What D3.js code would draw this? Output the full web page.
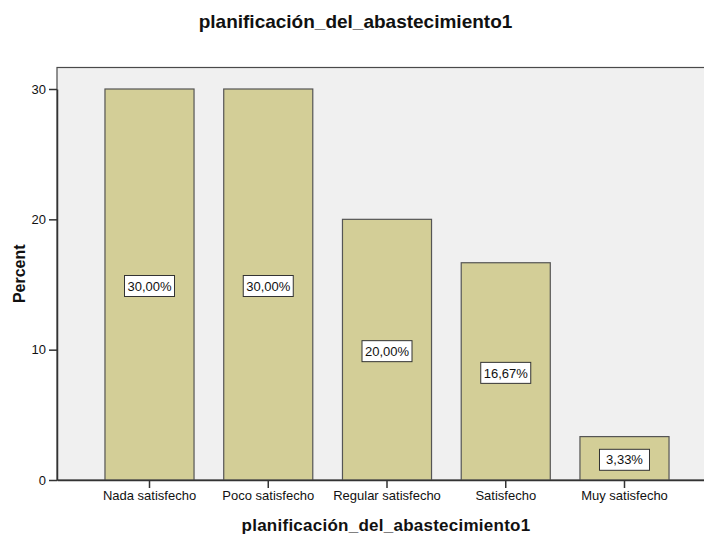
<!DOCTYPE html>
<html>
<head>
<meta charset="utf-8">
<script src="https://cdn.jsdelivr.net/npm/d3@7"></script>
<style>
  html, body { margin: 0; padding: 0; background: #ffffff; }
  svg { display: block; font-family: "Liberation Sans", Arial, sans-serif; }
</style>
</head>
<body>
<svg id="chart" width="704" height="535"></svg>
<script>
// Satisfaction levels and their share of responses (percent)
const categories = ["Nada satisfecho", "Poco satisfecho", "Regular satisfecho", "Satisfecho", "Muy satisfecho"];
const percents = [30.0, 30.0, 20.0, 16.67, 3.33];
const yTicks = [0, 10, 20, 30];
const chartTitle = "planificación_del_abastecimiento1";
const xTitle = "planificación_del_abastecimiento1";
const yTitle = "Percent";

const svg = d3.select("#chart");
const W = 704, H = 535;

// Plot frame runs off the right edge of the page
const plot = { left: 57, top: 67.5, right: 717, bottom: 480 };

const x = d3.scaleBand()
  .domain(categories)
  .range([plot.left, plot.right])
  .paddingInner(0.25)
  .paddingOuter(0.404);

const y = d3.scaleLinear()
  .domain([0, 30])
  .range([plot.bottom, 89]);

// Plot background
svg.append("rect")
  .attr("x", plot.left).attr("y", plot.top)
  .attr("width", plot.right - plot.left)
  .attr("height", plot.bottom - plot.top)
  .attr("fill", "#f0f0f0")
  .attr("stroke", "#4a4a4a")
  .attr("stroke-width", 1.2);

// Bars
svg.append("g").selectAll("rect")
  .data(categories)
  .join("rect")
  .attr("x", d => x(d))
  .attr("y", (d, i) => y(percents[i]))
  .attr("width", x.bandwidth())
  .attr("height", (d, i) => y(0) - y(percents[i]))
  .attr("fill", "#d3ce97")
  .attr("stroke", "#555555")
  .attr("stroke-width", 1.2);

// Value labels in white boxes at half bar height
const fmt = v => v.toFixed(2).replace(".", ",") + "%";
const labels = svg.append("g").selectAll("g")
  .data(categories)
  .join("g")
  .attr("transform", (d, i) => `translate(${x(d) + x.bandwidth() / 2},${y(percents[i] / 2) + 1.5})`);
labels.append("rect")
  .attr("x", -25).attr("y", -10.5)
  .attr("width", 50).attr("height", 21)
  .attr("fill", "#ffffff")
  .attr("stroke", "#333333")
  .attr("stroke-width", 1);
labels.append("text")
  .attr("text-anchor", "middle")
  .attr("dy", "0.36em")
  .attr("font-size", 13)
  .attr("fill", "#111")
  .text((d, i) => fmt(percents[i]));

// Y axis
const yAxis = svg.append("g")
  .attr("transform", `translate(${plot.left},0)`)
  .call(d3.axisLeft(y).tickValues(yTicks).tickSize(8).tickSizeOuter(0).tickPadding(3).tickFormat(d3.format("d")));
yAxis.select(".domain").attr("stroke", "#333").attr("stroke-width", 1.5);
yAxis.selectAll(".tick line").attr("stroke", "#333").attr("stroke-width", 1.5);
yAxis.selectAll(".tick text").attr("font-size", 13).attr("fill", "#111")
  .attr("font-family", "Liberation Sans, Arial, sans-serif");

// X axis
const xAxis = svg.append("g")
  .attr("transform", `translate(0,${plot.bottom})`)
  .call(d3.axisBottom(x).tickSize(8).tickSizeOuter(0).tickPadding(3));
xAxis.select(".domain").attr("stroke", "#333").attr("stroke-width", 1.5);
xAxis.selectAll(".tick line").attr("stroke", "#333").attr("stroke-width", 1.5);
xAxis.selectAll(".tick text").attr("font-size", 13).attr("fill", "#111")
  .attr("font-family", "Liberation Sans, Arial, sans-serif");

// Titles
svg.append("text")
  .attr("x", 355.5).attr("y", 28)
  .attr("text-anchor", "middle")
  .attr("font-size", 19).attr("font-weight", "bold").attr("fill", "#111")
  .text(chartTitle);

svg.append("text")
  .attr("x", 386).attr("y", 531)
  .attr("text-anchor", "middle")
  .attr("font-size", 17).attr("font-weight", "bold").attr("fill", "#111")
  .attr("letter-spacing", 0.25)
  .text(xTitle);

svg.append("text")
  .attr("transform", `translate(25,${(plot.top + plot.bottom) / 2}) rotate(-90)`)
  .attr("text-anchor", "middle")
  .attr("font-size", 16).attr("font-weight", "bold").attr("fill", "#111")
  .text(yTitle);
</script>
</body>
</html>
